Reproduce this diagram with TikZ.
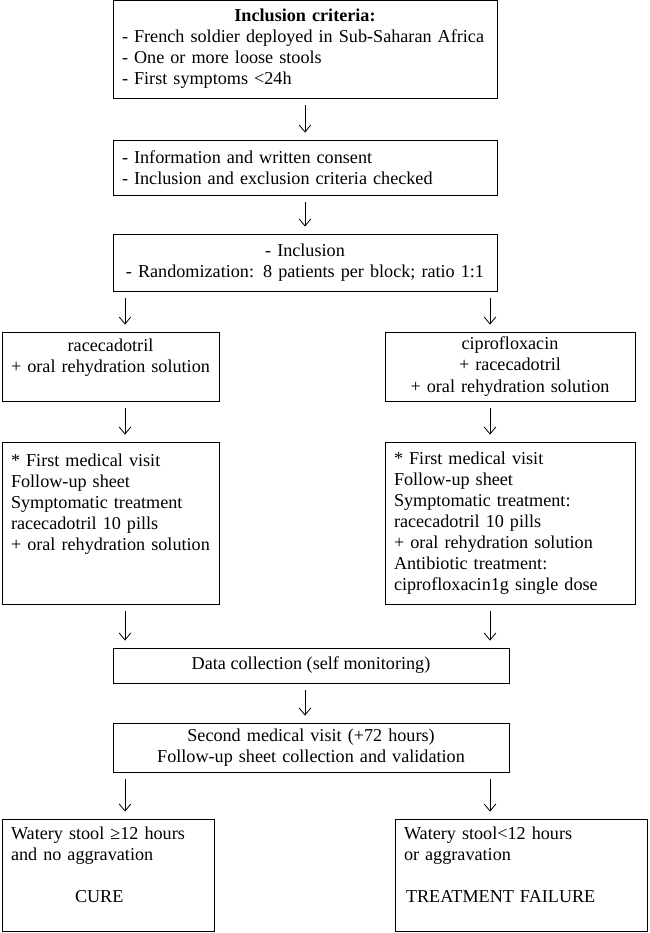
\documentclass[tikz,border=0pt]{standalone}
\usepackage{fontspec}
\setmainfont{Liberation Serif}
\usetikzlibrary{arrows.meta}
\newcommand{\px}{0.03cm}
\begin{document}
\begin{tikzpicture}[x=0.03cm,y=-0.03cm,
    box/.style={draw,line width=0.7pt,inner xsep=9*\px,inner ysep=0pt,
        font=\fontsize{15.5}{18}\selectfont},
    arr/.style={-{Straight Barb[length=6pt,width=10pt]},line width=0.7pt,
        shorten <=0.21cm,shorten >=0.21cm}]
    \useasboundingbox (0,0) rectangle (649,933);
    % arrow columns
    \coordinate (lx) at (125,0);
    \coordinate (mx) at (305,0);
    \coordinate (rx) at (490,0);
    % boxes in the middle column
    \node[box,minimum width=384*\px,minimum height=98*\px,text width=366*\px,align=left] (crit) at (305,49)
        {\makebox[\linewidth][c]{\textbf{Inclusion criteria:}}\\- French soldier deployed in Sub-Saharan Africa\\- One or more loose stools\\- First symptoms <24h};
    \node[box,minimum width=384*\px,minimum height=55*\px,text width=366*\px,align=left] (info) at (305,167.5)
        {- Information and written consent\\- Inclusion and exclusion criteria checked};
    \node[box,minimum width=384*\px,minimum height=57*\px,text width=366*\px,align=center] (incl) at (305,262.5)
        {- Inclusion\\- Randomization: 8 patients per block; ratio 1:1};
    % treatment arms
    \node[box,minimum width=217*\px,minimum height=69*\px,text width=199*\px,align=center] (racec) at (110.5,366.5)
        {racecadotril\\+ oral rehydration solution\\ \mbox{}};
    \node[box,minimum width=250*\px,minimum height=69*\px,text width=232*\px,align=center] (cipro) at (510,366.5)
        {ciprofloxacin\\+ racecadotril\\+ oral rehydration solution};
    \node[box,minimum width=217*\px,minimum height=162*\px,text width=199*\px,align=left] (lvisit) at (110.5,523)
        {* First medical visit\\* Follow-up sheet\\* Symptomatic treatment\\racecadotril 10 pills\\+ oral rehydration solution\\ \mbox{}\\ \mbox{}};
    \node[box,minimum width=250*\px,minimum height=162*\px,text width=232*\px,align=left] (rvisit) at (510,523)
        {* First medical visit\\* Follow-up sheet\\* Symptomatic treatment:\\racecadotril 10 pills\\+ oral rehydration solution\\* Antibiotic treatment:\\ciprofloxacin1g single dose};
    % follow-up
    \node[box,minimum width=396*\px,minimum height=35*\px] (data) at (311,665.5)
        {Data collection (self monitoring)};
    \node[box,minimum width=396*\px,minimum height=49*\px,text width=378*\px,align=center] (second) at (311,747.5)
        {Second medical visit (+72 hours)\\Follow-up sheet collection and validation};
    % outcomes
    \node[box,minimum width=212*\px,minimum height=112*\px,text width=194*\px,align=left] (cure) at (108,875)
        {Watery stool ≥12 hours\\and no aggravation\\ \mbox{}\\\hspace*{1.92cm}CURE\\ \mbox{}};
    \node[box,minimum width=252*\px,minimum height=112*\px,text width=234*\px,align=left] (fail) at (521,875)
        {Watery stool<12 hours\\or aggravation\\ \mbox{}\\\hspace*{0.06cm}TREATMENT FAILURE\\ \mbox{}};
    % arrows
    \draw[arr] (crit.south -| mx) -- (info.north -| mx);
    \draw[arr] (info.south -| mx) -- (incl.north -| mx);
    \draw[arr] (incl.south -| lx) -- (racec.north -| lx);
    \draw[arr] (incl.south -| rx) -- (cipro.north -| rx);
    \draw[arr] (racec.south -| lx) -- (lvisit.north -| lx);
    \draw[arr] (cipro.south -| rx) -- (rvisit.north -| rx);
    \draw[arr] (lvisit.south -| lx) -- (data.north -| lx);
    \draw[arr] (rvisit.south -| rx) -- (data.north -| rx);
    \draw[arr] (data.south -| mx) -- (second.north -| mx);
    \draw[arr] (second.south -| lx) -- (cure.north -| lx);
    \draw[arr] (second.south -| rx) -- (fail.north -| rx);
\end{tikzpicture}
\end{document}
